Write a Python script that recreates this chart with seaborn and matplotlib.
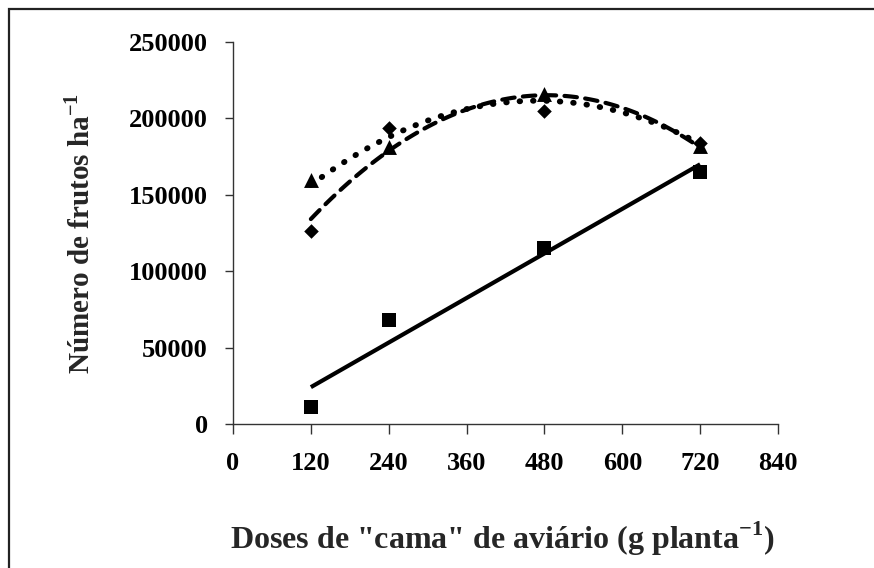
import numpy as np
import pandas as pd
import matplotlib
matplotlib.use("Agg")
import matplotlib.pyplot as plt
from matplotlib.patches import Rectangle
import seaborn as sns

#%% dados
doses = [120, 240, 480, 720]
quadrado = [11000, 68000, 115000, 165000]      # ajuste linear
losango = [126000, 194000, 205000, 184000]     # ajuste quadratico (tracejado)
triangulo = [160000, 181000, 216000, 182000]   # ajuste quadratico (pontilhado)
xticks = [0, 120, 240, 360, 480, 600, 720, 840]
yticks = [0, 50000, 100000, 150000, 200000, 250000]

df = pd.DataFrame({"dose": doses, "quad": quadrado, "los": losango, "tri": triangulo})

#%%
sns.set_style("ticks")
plt.rcParams['font.family'] = ['Liberation Serif', 'DejaVu Serif']
plt.rcParams['font.weight'] = 'bold'
plt.rcParams['mathtext.fontset'] = 'custom'
plt.rcParams['mathtext.rm'] = 'Liberation Serif:bold'
plt.rcParams['mathtext.bf'] = 'Liberation Serif:bold'

fig = plt.figure(figsize=(8.74, 5.68), dpi=100)
ax = fig.add_axes([0.2666, 0.2535, 0.6236, 0.6726])

# linhas de tendencia
sns.regplot(data=df, x="dose", y="quad", order=1, ci=None, scatter=False, ax=ax,
            line_kws={'color': 'black', 'lw': 3.0, 'solid_capstyle': 'butt'})
sns.regplot(data=df, x="dose", y="los", order=2, ci=None, scatter=False, ax=ax,
            line_kws={'color': 'black', 'lw': 3.0, 'ls': (0, (3, 2)), 'dash_capstyle': 'round'})
sns.regplot(data=df, x="dose", y="tri", order=2, ci=None, scatter=False, ax=ax,
            line_kws={'color': 'black', 'lw': 4.2, 'ls': (0, (0.1, 2.2)), 'dash_capstyle': 'round'})

# pontos
sns.scatterplot(data=df, x="dose", y="quad", marker="s", s=95, color="black", linewidth=0, ax=ax, zorder=3)
sns.scatterplot(data=df, x="dose", y="los", marker="D", s=55, color="black", linewidth=0, ax=ax, zorder=3)
sns.scatterplot(data=df, x="dose", y="tri", marker="^", s=115, color="black", linewidth=0, ax=ax, zorder=3)

ax.set_xlim(0, 840)
ax.set_ylim(0, 250000)
ax.set_xticks(xticks)
ax.set_yticks(yticks)
ax.set_xticklabels([str(t) for t in xticks], fontsize=19, fontweight='bold')
ax.set_yticklabels([str(t) for t in yticks], fontsize=19, fontweight='bold')
ax.tick_params(axis='x', direction='out', length=7, width=1, pad=13, colors='#333333', labelcolor='black')
ax.tick_params(axis='y', direction='out', length=6, width=1, pad=12, colors='#333333', labelcolor='black')
sns.despine(ax=ax)
for s in ['left', 'bottom']:
    ax.spines[s].set_linewidth(1)
    ax.spines[s].set_color('#333333')

ax.set_xlabel('Doses de "cama" de aviário (g planta$^{\\mathbf{-1}}$)', fontsize=23, fontweight='bold')
ax.set_ylabel('Número de frutos ha$^{\\mathbf{-1}}$', fontsize=21, fontweight='bold')
ax.xaxis.set_label_coords(0.495, -0.30)
ax.yaxis.set_label_coords(-0.28, 0.5)
ax.xaxis.label.set_va('center')
ax.yaxis.label.set_va('center')

# moldura
fig.patches.append(Rectangle((8.5 / 874, -0.1), 1.2, 1.0 + 0.1 - 9.5 / 568, transform=fig.transFigure,
                             fill=False, lw=1.6, edgecolor='#222222'))

plt.savefig("out.png", dpi=100)
